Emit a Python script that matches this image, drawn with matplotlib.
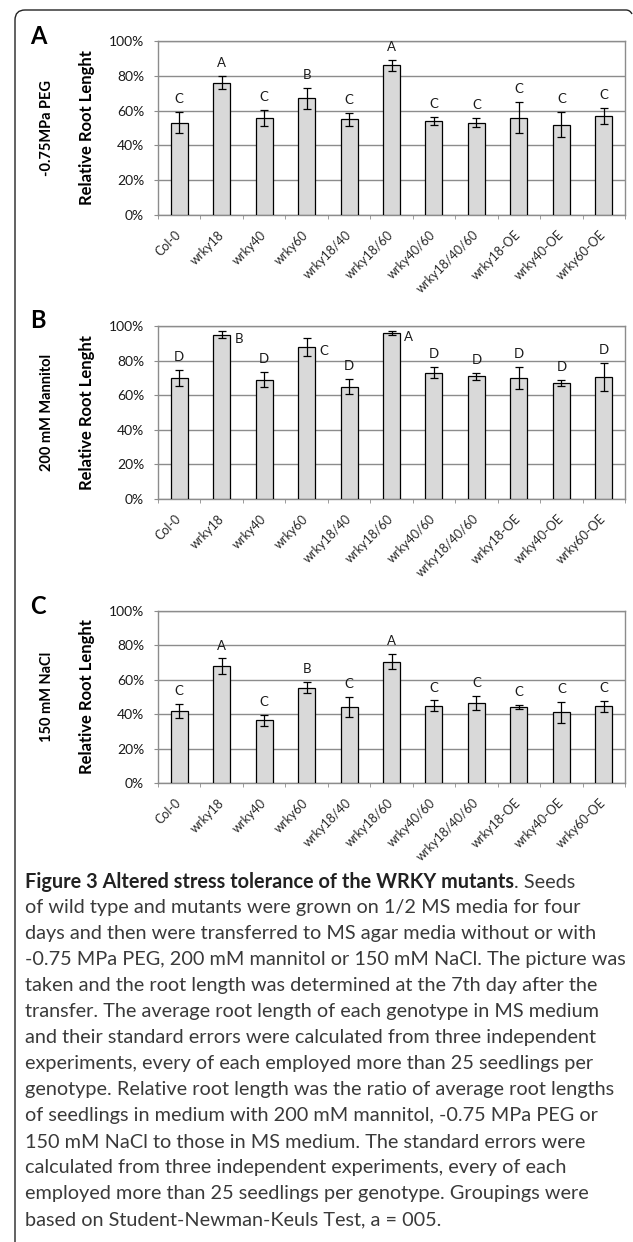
"""Figura 3: longitud relativa de raíz de los mutantes WRKY bajo estrés."""
import numpy as np
import matplotlib
matplotlib.use("Agg")
import matplotlib.pyplot as plt
from matplotlib.path import Path
from matplotlib.patches import PathPatch
from matplotlib.ticker import PercentFormatter

GENOTIPOS = ["Col-0", "wrky18", "wrky40", "wrky60", "wrky18/40", "wrky18/60",
             "wrky40/60", "wrky18/40/60", "wrky18-OE", "wrky40-OE", "wrky60-OE"]

PEG_MEDIA = [53, 76, 56, 67, 55, 86, 54, 53, 56, 52, 57]
PEG_ERR = [6.0, 3.7, 4.6, 5.8, 3.8, 3.3, 2.3, 2.6, 9.0, 7.1, 4.7]
PEG_GRUPOS = ["C", "A", "C", "B", "C", "A", "C", "C", "C", "C", "C"]

MAN_MEDIA = [70, 95, 69, 88, 65, 96, 73, 71, 70, 67, 70.5]
MAN_ERR = [4.6, 2.1, 4.5, 5.2, 4.2, 1.2, 3.2, 2.1, 6.3, 1.9, 8.2]
MAN_GRUPOS = ["D", "B", "D", "C", "D", "A", "D", "D", "D", "D", "D"]

NACL_MEDIA = [42, 68, 36.5, 55.5, 44, 70.5, 45, 46.5, 44, 41, 44.5]
NACL_ERR = [4.1, 4.4, 3.2, 3.0, 5.8, 4.4, 3.0, 4.1, 1.2, 5.9, 3.2]
NACL_GRUPOS = ["C", "A", "C", "B", "C", "A", "C", "C", "C", "C", "C"]

TRATAMIENTOS = ["-0.75MPa PEG", "200 mM Mannitol", "150 mM NaCl"]
PANELES = ["A", "B", "C"]

LEYENDA_NEGRITA = "Figure 3 Altered stress tolerance of the WRKY mutants"
LEYENDA = [
    ". Seeds",
    "of wild type and mutants were grown on 1/2 MS media for four",
    "days and then were transferred to MS agar media without or with",
    "-0.75 MPa PEG, 200 mM mannitol or 150 mM NaCl. The picture was",
    "taken and the root length was determined at the 7th day after the",
    "transfer. The average root length of each genotype in MS medium",
    "and their standard errors were calculated from three independent",
    "experiments, every of each employed more than 25 seedlings per",
    "genotype. Relative root length was the ratio of average root lengths",
    "of seedlings in medium with 200 mM mannitol, -0.75 MPa PEG or",
    "150 mM NaCl to those in MS medium. The standard errors were",
    "calculated from three independent experiments, every of each",
    "employed more than 25 seedlings per genotype. Groupings were",
    "based on Student-Newman-Keuls Test, a = 005.",
]

W, H = 633, 1242
GRIS = "#8c8c8c"
TINTA = "#1a1a1a"
plt.rcParams["font.family"] = ["Lato", "DejaVu Sans"]


def panel(fig, top, bottom, media, err, grupos, al_lado=()):
    left, right = 158, 625
    ax = fig.add_axes([left / W, 1 - bottom / H, (right - left) / W,
                       (bottom - top) / H])
    x = np.arange(len(GENOTIPOS))
    ax.bar(x, media, 0.4, color="#d9d9d9", edgecolor="black",
           linewidth=0.9, zorder=3)
    ax.errorbar(x, media, yerr=err, fmt="none", ecolor="black",
                elinewidth=0.9, capsize=2.6, capthick=0.9, zorder=4)
    for i, (m, e, g) in enumerate(zip(media, err, grupos)):
        if i in al_lado:
            ax.text(i + 0.3, m - 2.5, g, ha="left", va="center",
                    fontsize=9.5, color=TINTA)
        else:
            ax.text(i, m + e + 7.5, g, ha="center", va="center",
                    fontsize=9.5, color=TINTA)
    ax.set_xlim(-0.5, len(x) - 0.5)
    ax.set_ylim(0, 100)
    ax.set_yticks(np.arange(0, 101, 20))
    ax.yaxis.set_major_formatter(PercentFormatter(decimals=0))
    ax.yaxis.grid(True, color=GRIS, linewidth=1.0)
    ax.set_axisbelow(True)
    for s in ax.spines.values():
        s.set_color(GRIS)
        s.set_linewidth(1.0)
    ax.tick_params(axis="y", length=3, color=GRIS, labelsize=10,
                   labelcolor=TINTA, pad=7)
    ax.set_xticks(x)
    ax.set_xticklabels(GENOTIPOS, rotation=45, ha="right", va="center",
                       rotation_mode="anchor", fontsize=9, color="#2a2a2a")
    ax.tick_params(axis="x", which="major", length=0, pad=13)
    ax.set_xticks(np.arange(-0.5, len(x)), minor=True)
    ax.tick_params(axis="x", which="minor", length=3, color=GRIS)
    return ax


fig = plt.figure(figsize=(W / 100, H / 100), dpi=100)
fondo = fig.add_axes([0, 0, 1, 1], zorder=-1)
fondo.set_xlim(0, W)
fondo.set_ylim(H, 0)
fondo.axis("off")

# marco redondeado de la figura
r = 10
marco = Path([(15, H), (15, 10 + r), (15, 10), (15 + r, 10), (626, 10),
              (630, 10), (632, 14)],
             [Path.MOVETO, Path.LINETO, Path.CURVE3, Path.CURVE3,
              Path.LINETO, Path.CURVE3, Path.CURVE3])
fondo.add_patch(PathPatch(marco, facecolor="none", edgecolor="#222222",
                          linewidth=1.0))

limites = [(41, 215), (326, 499), (611, 783)]
datos = [(PEG_MEDIA, PEG_ERR, PEG_GRUPOS, ()),
         (MAN_MEDIA, MAN_ERR, MAN_GRUPOS, (1, 3, 5)),
         (NACL_MEDIA, NACL_ERR, NACL_GRUPOS, ())]
for (top, bottom), (m, e, g, lado), trat, letra in zip(limites, datos,
                                                        TRATAMIENTOS, PANELES):
    panel(fig, top, bottom, m, e, g, lado)
    yc = (top + bottom) / 2
    fondo.text(38, top - 5, letra, ha="center", va="center", fontsize=17,
               fontweight="bold", color="black")
    fondo.text(47, yc, trat, rotation=90, ha="center", va="center",
               fontsize=10.5, fontweight="bold", color="black")
    fondo.text(87, yc, "Relative Root Lenght", rotation=90, ha="center",
               va="center", fontsize=12, fontweight="bold", color="black")

# leyenda: primera línea en negrita + resto en texto normal
x0, y0, paso = 25, 882, 26
renderer = fig.canvas.get_renderer()
t_neg = fondo.text(x0, y0, LEYENDA_NEGRITA, ha="left", va="center",
                   fontsize=14, fontweight="bold", color="#222222")
t_sig = fondo.text(x0, y0, LEYENDA[0], ha="left", va="center", fontsize=14,
                   color="#3a3a3a")
lineas = [fondo.text(x0, y0 + k * paso, s, ha="left", va="center",
                     fontsize=14, color="#3a3a3a")
          for k, s in enumerate(LEYENDA[1:], start=1)]

# tamaño de letra ajustado para que la línea más ancha llegue al borde
anchos = [t_neg.get_window_extent(renderer).width
          + t_sig.get_window_extent(renderer).width]
anchos += [t.get_window_extent(renderer).width for t in lineas]
escala = 602 / max(anchos)
for t in [t_neg, t_sig] + lineas:
    t.set_fontsize(14 * escala)
bb = t_neg.get_window_extent(renderer)
t_sig.set_x(bb.x1)

fig.savefig("out.png", dpi=100)
